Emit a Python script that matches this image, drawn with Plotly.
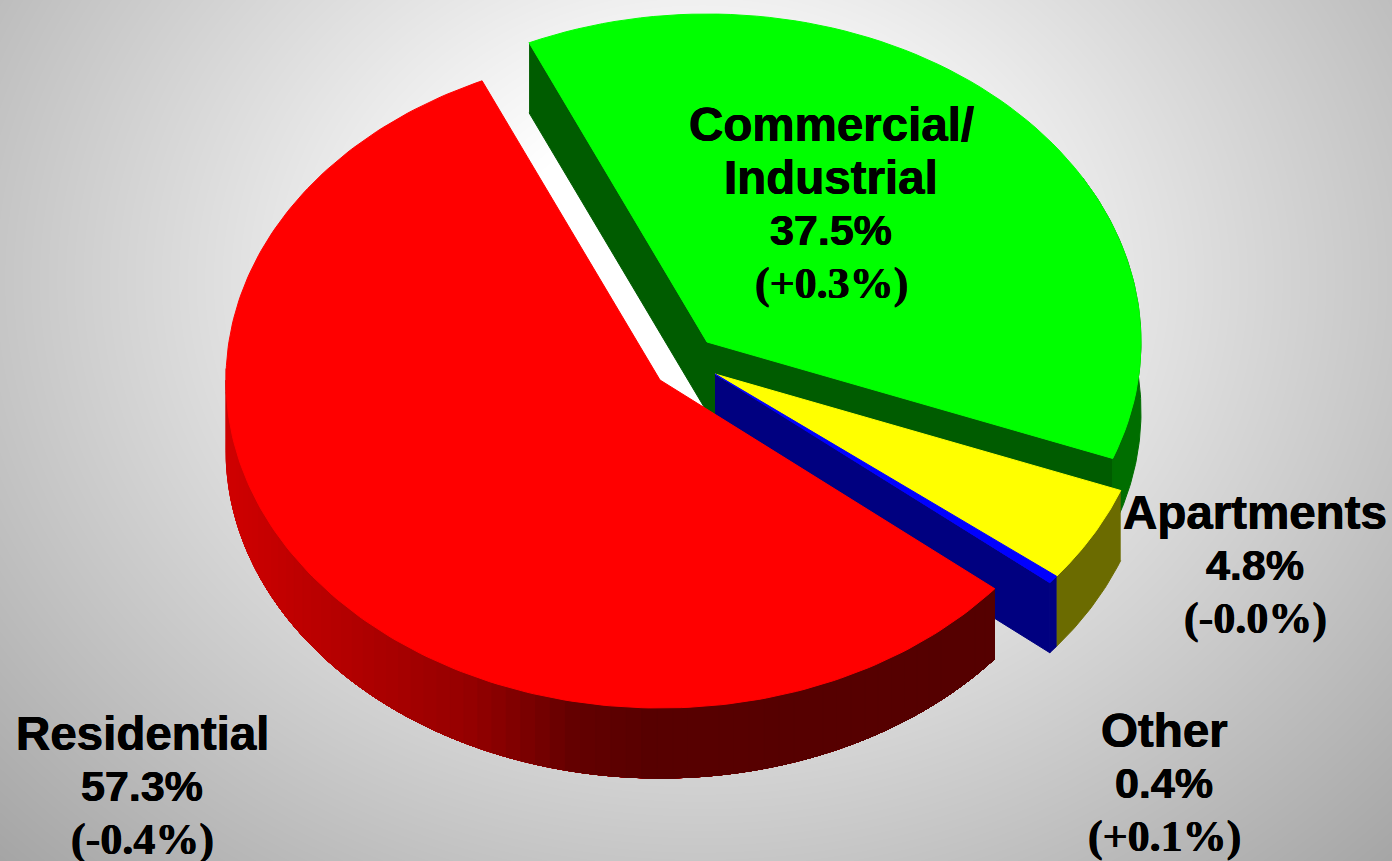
import numpy as np
import plotly.graph_objects as go

# slices, clockwise from the cut at the top of the green one
labels = ["Commercial/<br>Industrial", "Apartments", "Other", "Residential"]
shares = [37.5, 4.8, 0.4, 57.3]
changes = ["+0.3", "-0.0", "+0.1", "-0.4"]

top_colors = ["#00ff00", "#ffff00", "#0000ff", "#ff0000"]
wall_colors = ["#005c00", "#6b6b00", "#000080", "#580000"]
rim_colors = ["#006e00", "#6b6b00", "#000080", None]

# where each slice got pulled to, and the label spots
centers = [(707, 342), (715, 374), (715, 374), (660, 380)]
label_x = [831, 1255, 1164, 142]
label_y = [124, 512, 730, 733]

START = 335.8
RX, RY = 434, 328
DEPTH = 70
LINE_GAP = 53


def rim(c, a0, a1, n=80):
    t = np.radians(np.linspace(a0, a1, n))
    return c[0] + RX * np.sin(t), c[1] - RY * np.cos(t)


def poly(fig, x, y, color):
    fig.add_trace(go.Scatter(x=list(x), y=list(y), mode="lines", fill="toself", fillcolor=color,
                             line=dict(color=color, width=1), hoverinfo="skip", showlegend=False))


def wall(fig, x, y, color):
    # drop an edge straight down by the pie thickness
    x, y = np.asarray(x), np.asarray(y)
    poly(fig, np.r_[x, x[::-1]], np.r_[y, y[::-1] + DEPTH], color)


fig = go.Figure()

# grey backdrop, white behind the pie
gx = np.arange(0, 1400, 16)
gy = np.arange(0, 880, 16)
xx, yy = np.meshgrid(gx, gy)
dist = np.sqrt((xx - 700) ** 2 + (1.2 * (yy - 280)) ** 2)
fig.add_trace(go.Heatmap(x=gx, y=gy, z=np.clip(255 - 0.115 * (dist - 204), 0, 255), zmin=0, zmax=255,
                         colorscale=[[0, "#000000"], [1, "#ffffff"]], showscale=False,
                         zsmooth="best", hoverinfo="skip"))

angles = START + np.cumsum([0] + shares) * 3.6
green, yellow, other, red = 0, 1, 2, 3

# back walls first
c = centers[green]
ex, ey = rim(c, angles[green], angles[green], 1)
wall(fig, [ex[0], c[0]], [ey[0], c[1]], wall_colors[green])
ex, ey = rim(c, angles[green + 1], angles[green + 1], 1)
wall(fig, [c[0], ex[0]], [c[1], ey[0]], wall_colors[green])
x, y = rim(c, 360 + 60, angles[green + 1])
wall(fig, x, y, rim_colors[green])

for i in [yellow, other]:
    x, y = rim(centers[i], angles[i], angles[i + 1], 30)
    wall(fig, x, y, rim_colors[i])
c = centers[other]
ex, ey = rim(c, angles[other + 1], angles[other + 1], 1)
wall(fig, [c[0], ex[0]], [c[1], ey[0]], wall_colors[other])

for i in [green, yellow, other]:
    x, y = rim(centers[i], angles[i], angles[i + 1])
    poly(fig, np.r_[centers[i][0], x, centers[i][0]], np.r_[centers[i][1], y, centers[i][1]], top_colors[i])

# red rim gets darker going right; painted long to short so no seams show
c = centers[red]
rim_start = angles[red] - 360
for a1 in np.linspace(272, rim_start + 2, 70):
    x, y = rim(c, rim_start, a1, 120)
    shade = int(np.interp(x[-1], [226, 467, 567, 640, 1000], [208, 148, 100, 88, 85]))
    wall(fig, x, y, f"rgb({shade},0,0)")

x, y = rim(c, angles[red], angles[red + 1], 200)
poly(fig, np.r_[c[0], x, c[0]], np.r_[c[1], y, c[1]], top_colors[red])

# labels, one annotation a line because the leading is tighter than plotly's
heavy = "0.4px 0 0 #000, -0.4px 0 0 #000"
name_font = dict(family="Liberation Sans", size=47.5, color="#000000", shadow=heavy)
share_font = dict(family="Liberation Sans", size=43, color="#000000", shadow=heavy)
change_font = dict(family="Liberation Serif", size=44, color="#000000", shadow=heavy)
for name, share, change, lx, ly in zip(labels, shares, changes, label_x, label_y):
    lines = [(t, name_font) for t in name.split("<br>")]
    lines += [(f"{share}%", share_font), (f"({change}%)", change_font)]
    for n, (text, font) in enumerate(lines):
        fig.add_annotation(x=lx, y=ly + n * LINE_GAP, text=f"<b>{text}</b>", showarrow=False,
                           font=font, xanchor="center", yanchor="middle")

fig.update_xaxes(range=[0, 1392], visible=False)
fig.update_yaxes(range=[861, 0], visible=False)
fig.update_layout(width=1392, height=861, margin=dict(l=0, r=0, t=0, b=0), showlegend=False,
                  paper_bgcolor="#e8e8e8", plot_bgcolor="#e8e8e8")

# the page's default body margin would push the picture 8px in
fig.write_html("out.html", config={"displayModeBar": False},
               post_script="document.body.style.margin='0';document.body.style.overflow='hidden';")
